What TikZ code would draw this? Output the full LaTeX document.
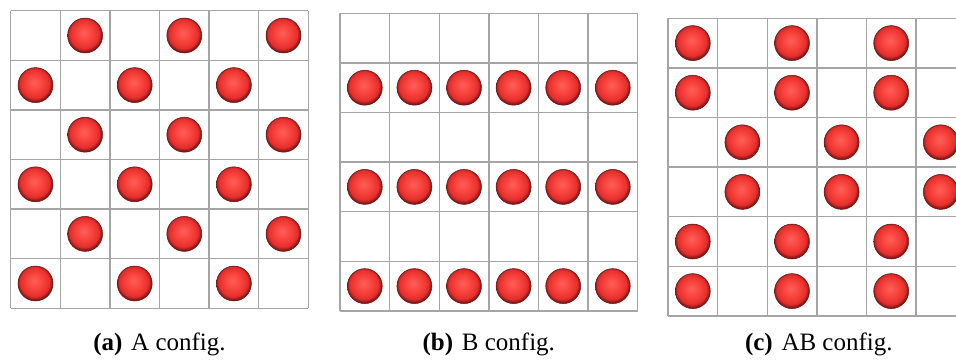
\documentclass[tikz,border=0pt]{standalone}
\usepackage{fontspec}
\setmainfont{Liberation Serif}
\definecolor{blA}{RGB}{255,95,90}
\definecolor{blB}{RGB}{247,66,60}
\definecolor{blC}{RGB}{228,46,44}
\definecolor{blD}{RGB}{130,24,22}
\definecolor{gridgray}{RGB}{165,165,165}
\definecolor{rimcol}{RGB}{100,20,20}
\pgfdeclareradialshading{redball}{\pgfpoint{-2bp}{4bp}}{color(0bp)=(blA); color(12bp)=(blB); color(21bp)=(blC); color(25bp)=(blD); color(50bp)=(blD)}
\begin{document}
\begin{tikzpicture}[x=1pt,y=-1pt,
  gridline/.style={draw=gridgray, line width=1.4pt},
  ball/.style={shading=redball, draw=rimcol, line width=0.5pt},
  captext/.style={font=\fontsize{25}{30}\selectfont, anchor=base, inner sep=0pt}]
\useasboundingbox (0,0) rectangle (956,360);
\clip (0,0) rectangle (956,360);
\def\s{49.6}
\def\rad{17.5}
% ---------- panel A ----------
\def\xa{10.7}\def\ya{10.7}
\foreach \i in {0,...,6} {
  \draw[gridline] (\xa+\i*\s,\ya) -- (\xa+\i*\s,\ya+6*\s);
  \draw[gridline] (\xa,\ya+\i*\s) -- (\xa+6*\s,\ya+\i*\s);
}
\foreach \r in {1,...,6} {
  \foreach \c in {1,...,6} {
    \pgfmathtruncatemacro{\odd}{mod(\r+\c,2)}
    \ifnum\odd=1
      \path[ball] (\xa+\c*\s-0.5*\s,\ya+\r*\s-0.5*\s) circle (\rad);
    \fi
  }
}
% ---------- panel B ----------
\def\xb{340}\def\yb{13.3}
\foreach \i in {0,...,6} {
  \draw[gridline] (\xb+\i*\s,\yb) -- (\xb+\i*\s,\yb+6*\s);
  \draw[gridline] (\xb,\yb+\i*\s) -- (\xb+6*\s,\yb+\i*\s);
}
\foreach \r in {2,4,6} {
  \foreach \c in {1,...,6} {
    \path[ball] (\xb+\c*\s-0.5*\s,\yb+\r*\s-0.5*\s) circle (\rad);
  }
}
% ---------- panel C ----------
\def\xc{668}\def\yc{18.3}
\foreach \i in {0,...,6} {
  \draw[gridline] (\xc+\i*\s,\yc) -- (\xc+\i*\s,\yc+6*\s);
  \draw[gridline] (\xc,\yc+\i*\s) -- (\xc+6*\s,\yc+\i*\s);
}
\foreach \r in {1,...,6} {
  \foreach \c in {1,...,6} {
    \pgfmathtruncatemacro{\grp}{int((\r+1)/2)}
    \pgfmathtruncatemacro{\pp}{mod(\grp+\c,2)}
    \ifnum\pp=0
      \path[ball] (\xc+\c*\s-0.5*\s,\yc+\r*\s-0.5*\s) circle (\rad);
    \fi
  }
}
% ---------- captions ----------
\node[captext] (capA) at (159.5,350) {\textbf{(a)}\hspace{0.35em}A config.};
\node[captext] (capB) at (488.8,350) {\textbf{(b)}\hspace{0.35em}B config.};
\node[captext] (capC) at (818.8,350) {\textbf{(c)}\hspace{0.35em}AB config.};
\end{tikzpicture}
\end{document}
